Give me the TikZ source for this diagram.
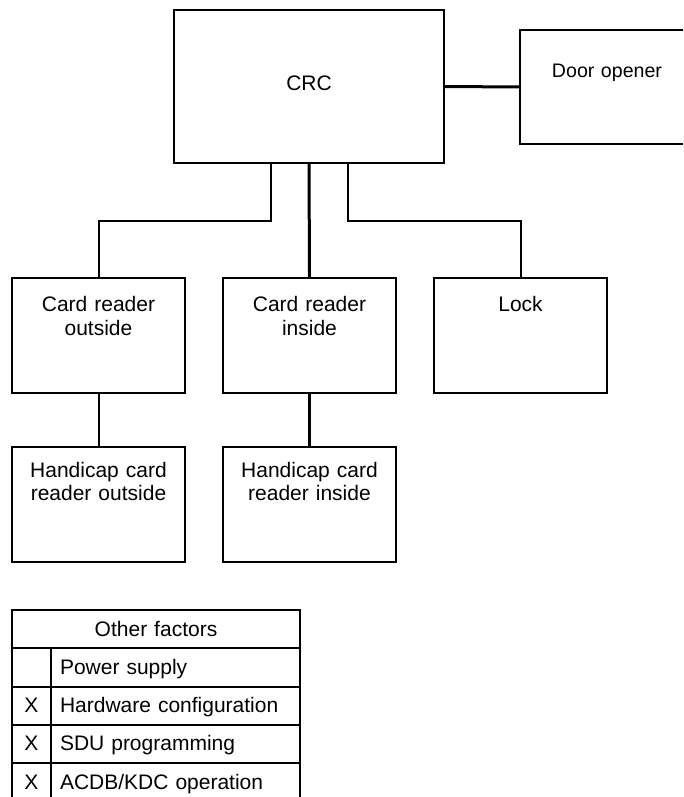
\documentclass[tikz,border=0pt]{standalone}
\usepackage{fontspec}
\setmainfont{Liberation Sans}
\usetikzlibrary{positioning}

\begin{document}
\begin{tikzpicture}[
  x=1pt, y=-1pt,
  node distance=54pt and 38pt,
  box/.style={
    rectangle, draw, line width=2pt, outer sep=0pt,
    font=\fontsize{21}{23.4}\selectfont,
    text width=165pt, align=center, inner xsep=4pt, inner ysep=0pt,
    text height=33.7pt, text depth=81.3pt
  },
  ctrl/.style={
    box, text width=262pt, text height=80.7pt, text depth=72.3pt
  },
  dooropen/.style={
    box, font=\fontsize{19.6}{22}\selectfont,
    text width=166pt, text height=47.3pt, text depth=66.7pt
  },
  hcap/.style={
    box, text height=30.3pt, text depth=84.7pt
  },
  cell/.style={
    rectangle, draw, line width=2pt, outer sep=0pt, inner ysep=0pt,
    font=\fontsize{21}{23.4}\selectfont, text height=26pt, text depth=12.3pt
  },
  hdrcell/.style={cell, text width=280pt, inner xsep=4pt, align=center,
    text height=26.7pt, text depth=11.6pt},
  xcell/.style={cell, minimum width=39pt, inner xsep=0pt},
  factcell/.style={cell, text width=231pt, inner xsep=9pt, align=left},
  link/.style={line width=2pt},
  mainlink/.style={line width=3pt}
]
\useasboundingbox (0,0) rectangle (683,797);
\clip (0,0) rectangle (683,797);

%% ── Controller and door opener ─────────────────────────────────────────────
\node[ctrl, anchor=north west]     (crc)   at (174,10) {CRC};
\node[dooropen, anchor=north west] (dopen) at (520,30) {Door opener};

%% ── Readers and lock ────────────────────────────────────────────────────────
\node[box, anchor=north west] (cro)  at (12,278) {Card reader\\outside};
\node[box, right=of cro]      (cri)  {Card reader\\inside};
\node[box, right=of cri]      (lock) {Lock};
\node[hcap, below=of cro]     (hco)  {Handicap card\\reader outside};
\node[hcap, below=of cri]     (hci)  {Handicap card\\reader inside};

%% ── Connections ─────────────────────────────────────────────────────────────
\draw[link]     ([xshift=-38pt]crc.south) -- ++(0,58) -| (cro.north);
\draw[mainlink] (crc.south) -- (cri.north);
\draw[link]     ([xshift=39pt]crc.south) -- ++(0,58) -| (lock.north);
\draw[mainlink] (crc.east)  -- (dopen.west);
\draw[link]     (cro.south) -- (hco.north);
\draw[mainlink] (cri.south) -- (hci.north);

%% ── Table of other factors ──────────────────────────────────────────────────
\node[hdrcell, anchor=north west]  (hdr) at (12,610)          {Other factors};
\node[xcell, anchor=north west]    (x1)  at (hdr.south west)  {};
\node[factcell, anchor=north west] (f1)  at (x1.north east)   {Power supply};
\node[xcell, anchor=north west]    (x2)  at (x1.south west)   {X};
\node[factcell, anchor=north west] (f2)  at (x2.north east)   {Hardware configuration};
\node[xcell, anchor=north west]    (x3)  at (x2.south west)   {X};
\node[factcell, anchor=north west] (f3)  at (x3.north east)   {SDU programming};
\node[xcell, anchor=north west]    (x4)  at (x3.south west)   {X};
\node[factcell, anchor=north west] (f4)  at (x4.north east)   {ACDB/KDC operation};

\end{tikzpicture}
\end{document}
